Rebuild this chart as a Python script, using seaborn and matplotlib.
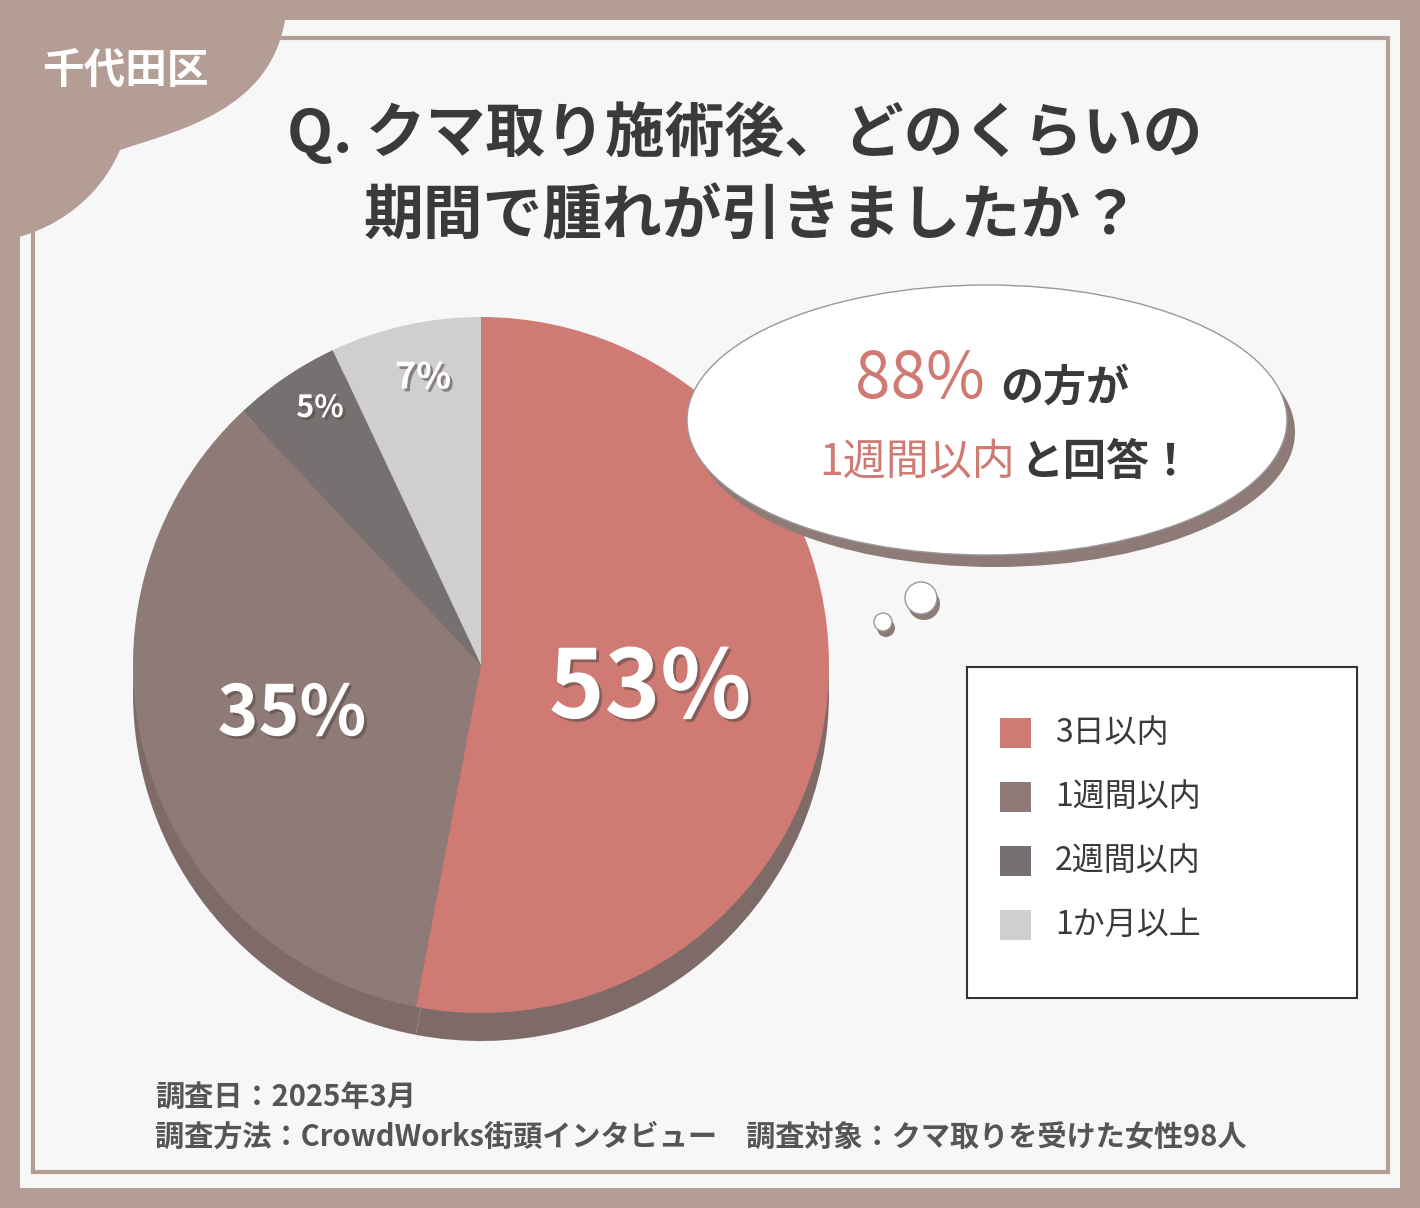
import matplotlib
matplotlib.use("Agg")
import matplotlib.pyplot as plt
import seaborn as sns
from matplotlib.patches import Rectangle, Ellipse, Circle, PathPatch
from matplotlib.path import Path
import matplotlib.patheffects as pe

categories = ["3日以内", "1週間以内", "2週間以内", "1か月以上"]
values = [53, 35, 5, 7]
labels = ["53%", "35%", "5%", "7%"]
colors = ["#D07A74", "#8E7B78", "#767070", "#CFCFCF"]

sns.set_theme(style="white", font="Noto Sans CJK JP")
FONT = "Noto Sans CJK JP"
W, H = 1420, 1208
fig = plt.figure(figsize=(14.2, 12.08), dpi=100)
ax = fig.add_axes([0, 0, 1, 1])
ax.set_xlim(0, W); ax.set_ylim(0, H); ax.set_aspect("equal"); ax.axis("off")
Y = lambda y: H - y

fig.patch.set_facecolor("#B39D95")
ax.add_patch(Rectangle((20, Y(1188)), 1380, 1168, fc="#F8F7F7", ec="none", zorder=0))
ax.add_patch(Rectangle((33, Y(1172)), 1355, 1134, fc="none", ec="#B39D95", lw=3, zorder=1))
verts = [(0, Y(0)), (285, Y(0)), (285, Y(20)), (270, Y(110)), (180, Y(130)), (120, Y(150)),
         (90, Y(220)), (20, Y(240)), (0, Y(240)), (0, Y(0))]
codes = [Path.MOVETO, Path.LINETO, Path.LINETO, Path.CURVE4, Path.CURVE4, Path.CURVE4,
         Path.CURVE4, Path.CURVE4, Path.LINETO, Path.CLOSEPOLY]
ax.add_patch(PathPatch(Path(verts, codes), fc="#B39D95", ec="none", zorder=2))
ax.text(125, Y(72), "千代田区", color="white", fontsize=30, fontweight="bold", family=FONT,
        ha="center", va="center", zorder=3)

ax.text(745, Y(133), "Q. クマ取り施術後、どのくらいの", fontsize=43, fontweight="bold",
        color="#3A3A3A", ha="center", va="center", family=FONT, zorder=3)
ax.text(752, Y(218), "期間で腫れが引きましたか？", fontsize=43, fontweight="bold",
        color="#3A3A3A", ha="center", va="center", family=FONT, zorder=3)

cx, cy, r = 481, Y(665), 348
shadow = ["#7E6A67"] * 4
ax.pie(values, colors=shadow, startangle=90, counterclock=False, center=(cx, cy - 28),
       radius=r, frame=True, wedgeprops=dict(lw=0, zorder=4))
ax.pie(values, colors=colors, startangle=90, counterclock=False, center=(cx, cy),
       radius=r, frame=True, wedgeprops=dict(lw=0, zorder=5))
ax.set_xlim(0, W); ax.set_ylim(0, H); ax.axis("off")
eff = [pe.withSimplePatchShadow(offset=(2, -2), shadow_rgbFace="#5A4A48", alpha=0.6)]
pos = [(650, 690, 68), (292, 715, 50), (320, 408, 22), (423, 378, 26)]
for lab, (x, y, s) in zip(labels, pos):
    ax.text(x, Y(y), lab, color="white", fontsize=s, fontweight="bold", family=FONT,
            ha="center", va="center", zorder=7, path_effects=eff)

ax.add_patch(Ellipse((995, Y(432)), 600, 270, fc="#8E7B78", ec="none", zorder=5))
ax.add_patch(Ellipse((987, Y(420)), 600, 270, fc="white", ec="#999999", lw=1, zorder=6))
for (x, y, rr) in [(921, 598, 16), (883, 622, 9)]:
    ax.add_patch(Circle((x + 3, Y(y + 6)), rr, fc="#8E7B78", ec="none", zorder=5))
    ax.add_patch(Circle((x, Y(y)), rr, fc="white", ec="#999999", lw=1, zorder=6))
ax.text(855, Y(380), "88%", color="#D07A74", fontsize=46, family=FONT, ha="left", va="center", zorder=7)
ax.text(1000, Y(388), "の方が", color="#3A3A3A", fontsize=31, fontweight="bold", family=FONT, ha="left", va="center", zorder=7)
ax.text(1015, Y(462), "1週間以内", color="#D07A74", fontsize=31, family=FONT, ha="right", va="center", zorder=7)
ax.text(1020, Y(462), "と回答！", color="#3A3A3A", fontsize=31, fontweight="bold", family=FONT, ha="left", va="center", zorder=7)

ax.add_patch(Rectangle((967, Y(998)), 390, 331, fc="white", ec="#333333", lw=1.5, zorder=5))
for i, (c, name) in enumerate(zip(colors, categories)):
    yy = 733 + 64 * i
    ax.add_patch(Rectangle((1000, Y(yy + 15)), 31, 30, fc=c, ec="none", zorder=6))
    ax.text(1055, Y(yy), name, fontsize=23, color="#3A3A3A", family=FONT, ha="left", va="center", zorder=6)

ax.text(155, Y(1097), "調査日：2025年3月", fontsize=21, fontweight="bold", color="#555555", family=FONT, ha="left", va="center")
ax.text(155, Y(1137), "調査方法：CrowdWorks街頭インタビュー　調査対象：クマ取りを受けた女性98人", fontsize=21,
        fontweight="bold", color="#555555", family=FONT, ha="left", va="center")

fig.savefig("out.png", dpi=100, facecolor=fig.get_facecolor())
